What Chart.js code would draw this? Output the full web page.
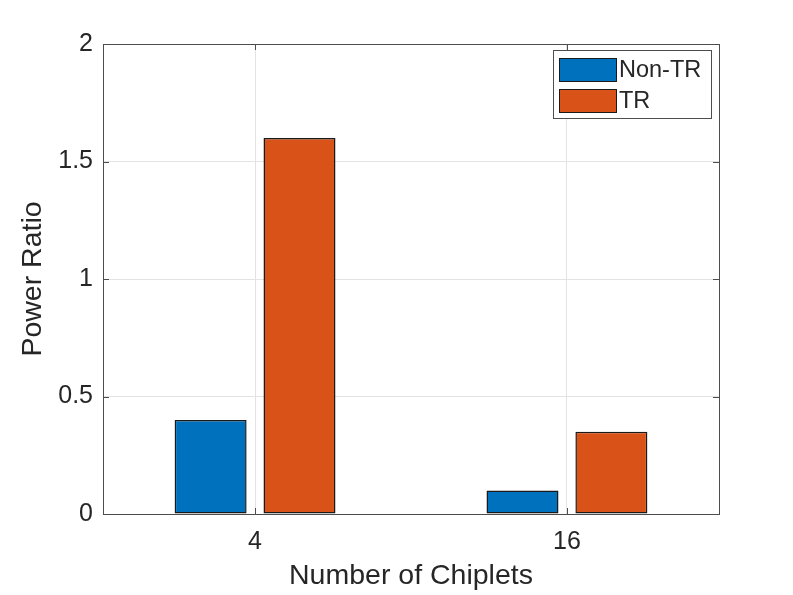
<!DOCTYPE html>
<html>
<head>
<meta charset="utf-8">
<script src="https://cdn.jsdelivr.net/npm/chart.js@4.4.1/dist/chart.umd.min.js"></script>
<style>
  html, body { margin: 0; padding: 0; background: #fff; }
  #wrap { width: 793px; height: 595px; }
</style>
</head>
<body>
<div id="wrap"><canvas id="chartPower" width="793" height="595"></canvas></div>
<script>
// --- data ---
const categories = ['4', '16'];
const xPositions = [1, 2];
const nonTR = [0.4, 0.1];
const tr = [1.6, 0.35];
const yTicks = [0, 0.5, 1, 1.5, 2];

// --- colours (matlab defaults) ---
const colorBlue = '#0072BD';
const colorOrange = '#D95319';
const colorAxis = '#262626';
const colorBox = '#4d4d4d';
const colorGrid = '#e3e3e3';
const fontFamily = '"Liberation Sans", Arial, Helvetica, sans-serif';

// axes box + inward ticks, drawn over the bars like matlab does
const axesBox = {
    id: 'axesBox',
    afterDatasetsDraw(chart) {
        const { ctx, chartArea: a, scales } = chart;
        const len = 6;
        ctx.save();
        ctx.strokeStyle = colorBox;
        ctx.lineWidth = 1;
        ctx.beginPath();
        xPositions.forEach(v => {
            const px = Math.round(scales.x.getPixelForValue(v)) + 0.5;
            ctx.moveTo(px, a.bottom); ctx.lineTo(px, a.bottom - len);
            ctx.moveTo(px, a.top); ctx.lineTo(px, a.top + len);
        });
        yTicks.forEach(v => {
            const py = Math.round(scales.y.getPixelForValue(v)) + 0.5;
            ctx.moveTo(a.left, py); ctx.lineTo(a.left + len, py);
            ctx.moveTo(a.right, py); ctx.lineTo(a.right - len, py);
        });
        ctx.stroke();
        ctx.strokeRect(Math.round(a.left) + 0.5, Math.round(a.top) + 0.5,
            Math.round(a.right - a.left), Math.round(a.bottom - a.top));
        ctx.restore();
    }
};

// legend box in the north-east corner of the axes
const cornerLegend = {
    id: 'cornerLegend',
    afterDraw(chart) {
        const ctx = chart.ctx;
        const bx = 553, by = 50, bw = 158, bh = 68;
        ctx.save();
        ctx.fillStyle = '#fff';
        ctx.fillRect(bx, by, bw, bh);
        ctx.strokeStyle = colorBox;
        ctx.lineWidth = 1;
        ctx.strokeRect(bx + 0.5, by + 0.5, bw, bh);
        ctx.font = '23.5px ' + fontFamily;
        ctx.textBaseline = 'middle';
        chart.data.datasets.forEach((ds, i) => {
            const sy = 58 + i * 31;
            ctx.fillStyle = ds.backgroundColor;
            ctx.fillRect(559, sy, 57, 23);
            ctx.strokeStyle = '#1a1a1a';
            ctx.strokeRect(559.5, sy + 0.5, 57, 23);
            ctx.fillStyle = colorAxis;
            ctx.fillText(ds.label, 619, sy + 12.5);
        });
        ctx.restore();
    }
};

document.addEventListener('DOMContentLoaded', function () {
    const ctxPower = document.getElementById('chartPower');
    new Chart(ctxPower, {
        type: 'bar',
        data: {
            datasets: [{
                label: 'Non-TR',
                data: xPositions.map((x, i) => ({ x: x, y: nonTR[i] })),
                backgroundColor: colorBlue,
                borderColor: '#1a1a1a',
                borderWidth: 1.5,
                borderSkipped: false
            }, {
                label: 'TR',
                data: xPositions.map((x, i) => ({ x: x, y: tr[i] })),
                backgroundColor: colorOrange,
                borderColor: '#1a1a1a',
                borderWidth: 1.5,
                borderSkipped: false
            }]
        },
        options: {
            responsive: false,
            animation: false,
            categoryPercentage: 0.57,
            barPercentage: 0.81,
            layout: { padding: { left: 0, top: 44, right: 74, bottom: 0 } },
            plugins: {
                legend: { display: false },
                tooltip: { enabled: false }
            },
            scales: {
                x: {
                    type: 'linear',
                    min: 0.5125,
                    max: 2.4875,
                    offset: false,
                    afterBuildTicks: s => { s.ticks = xPositions.map(v => ({ value: v })); },
                    afterFit: s => { s.height = 81; },
                    grid: { color: colorGrid, drawTicks: false, offset: false },
                    border: { display: false },
                    ticks: {
                        color: colorAxis,
                        padding: 13,
                        font: { family: fontFamily, size: 25 },
                        callback: v => categories[xPositions.indexOf(v)]
                    },
                    title: {
                        display: true,
                        text: 'Number of Chiplets',
                        color: colorAxis,
                        font: { family: fontFamily, size: 28.5 },
                        padding: { top: 0, bottom: 1.5 }
                    }
                },
                y: {
                    min: 0,
                    max: 2,
                    afterBuildTicks: s => { s.ticks = yTicks.map(v => ({ value: v })); },
                    afterFit: s => { s.width = 103; },
                    grid: { color: colorGrid, drawTicks: false },
                    border: { display: false },
                    ticks: {
                        color: colorAxis,
                        padding: 10,
                        font: { family: fontFamily, size: 25 },
                        callback: v => String(v)
                    },
                    title: {
                        display: true,
                        text: 'Power Ratio',
                        color: colorAxis,
                        font: { family: fontFamily, size: 28.5 },
                        padding: { top: 16.5, bottom: 0 }
                    }
                }
            }
        },
        plugins: [axesBox, cornerLegend]
    });
});
</script>
</body>
</html>
